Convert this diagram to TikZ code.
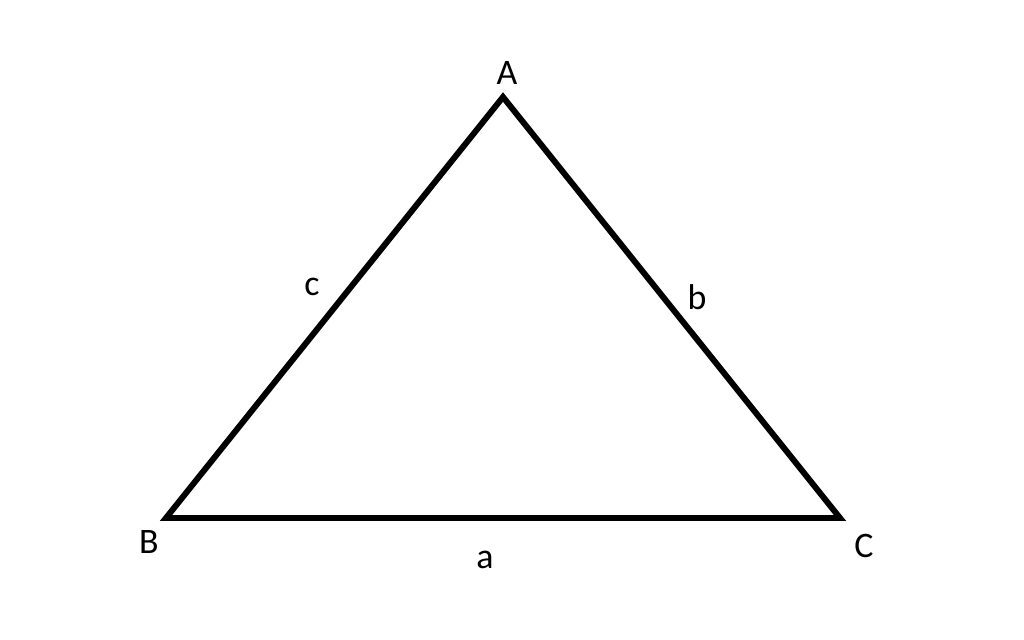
\documentclass[tikz,border=0pt]{standalone}
\usepackage{fontspec}
\setmainfont{Carlito}
\tikzset{
    edge line/.style={line width=1.7pt, line join=miter}, % sides of the triangle
    lbl/.style={inner sep=0pt, font=\fontsize{10.2}{12}\selectfont} % vertex and side labels
}
\begin{document}
\begin{tikzpicture}[x=0.01cm, y=-0.01cm]
    \useasboundingbox (0,0) rectangle (1024,640);
    \coordinate (A) at (503,97);
    \coordinate (B) at (166,518);
    \coordinate (C) at (840,518);
    \draw[edge line] (A) -- (B) -- (C) -- cycle;

    \node[lbl] (labelA) at (507,73) {A};
    \node[lbl] (labelB) at (149,542) {B};
    \node[lbl] (labelC) at (864,546) {C};
    \node[lbl] (labela) at (485,560) {a};
    \node[lbl] (labelb) at (697,297) {b};
    \node[lbl] (labelc) at (312,287) {c};
\end{tikzpicture}
\end{document}
